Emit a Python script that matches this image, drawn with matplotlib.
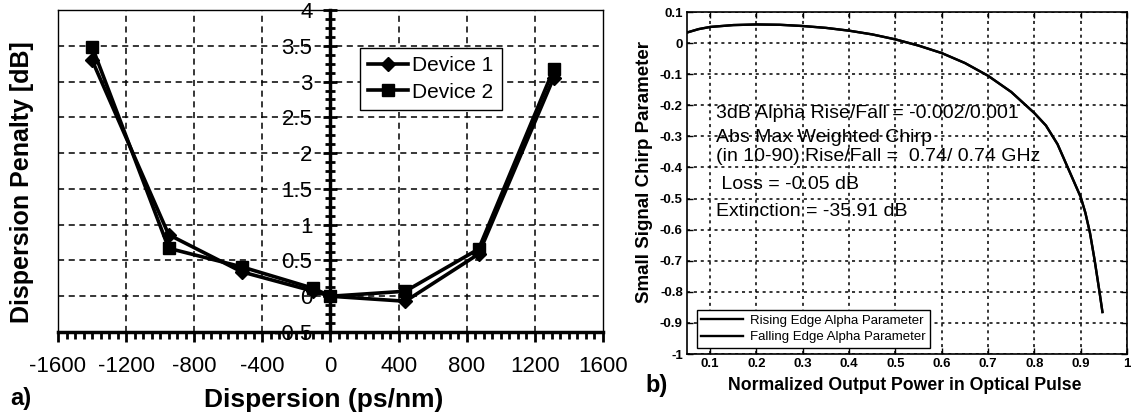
import numpy as np
import matplotlib.pyplot as plt
from matplotlib.ticker import MultipleLocator, AutoMinorLocator

plt.rcParams['font.family'] = ['Liberation Sans', 'DejaVu Sans']
plt.rcParams['axes.unicode_minus'] = False

# dispersion penalty measurements
dispersion = [-1400, -950, -520, -100, 0, 440, 870, 1310]
penalty_dev1 = [3.30, 0.86, 0.34, 0.07, 0.0, -0.07, 0.59, 3.05]
penalty_dev2 = [3.49, 0.67, 0.41, 0.11, 0.0, 0.07, 0.66, 3.17]

# small signal chirp vs normalized output power
power = [0.05, 0.075, 0.1, 0.15, 0.2, 0.25, 0.3, 0.35, 0.4, 0.45, 0.5, 0.55,
         0.6, 0.65, 0.7, 0.75, 0.8, 0.825, 0.85, 0.875, 0.9, 0.91, 0.92,
         0.93, 0.94, 0.947]
alpha_rise = [0.034, 0.045, 0.052, 0.058, 0.06, 0.059, 0.055, 0.049, 0.04,
              0.028, 0.012, -0.008, -0.032, -0.064, -0.105, -0.157, -0.225,
              -0.265, -0.325, -0.41, -0.495, -0.545, -0.61, -0.697, -0.794,
              -0.865]
alpha_fall = list(alpha_rise)

notes = ["3dB Alpha Rise/Fall = -0.002/0.001",
         "Abs Max Weighted Chirp",
         "(in 10-90) Rise/Fall =  0.74/ 0.74 GHz",
         " Loss = -0.05 dB",
         "Extinction = -35.91 dB"]
note_y = [-0.225, -0.302, -0.366, -0.456, -0.543]

fig = plt.figure(figsize=(11.37, 4.19), dpi=100)

# ---- a) dispersion penalty ----
ax1 = fig.add_axes([0.051, 0.2076, 0.4793, 0.7685])
ax1.plot(dispersion, penalty_dev1, color='black', lw=2.6, marker='D',
         ms=7, label='Device 1')
ax1.plot(dispersion, penalty_dev2, color='black', lw=2.6, marker='s',
         ms=8.5, label='Device 2')
ax1.set_xlim(-1600, 1600)
ax1.set_ylim(-0.5, 4)
ax1.xaxis.set_major_locator(MultipleLocator(400))
ax1.xaxis.set_minor_locator(MultipleLocator(50))
ax1.yaxis.set_minor_locator(AutoMinorLocator(4))
ax1.set_yticks(np.arange(-0.5, 4.01, 0.5))
ax1.set_yticklabels(['-0.5', '0', '0.5', '1', '1.5', '2', '2.5', '3', '3.5', '4'])
for x in [-1200, -800, -400, 400, 800, 1200]:
    ax1.axvline(x, color='black', ls=(0, (4, 3)), lw=1.1, zorder=1)
for y in np.arange(0, 3.6, 0.5):
    ax1.axhline(y, color='black', ls=(0, (4, 3)), lw=1.1, zorder=1)
ax1.spines['left'].set_position(('data', 0))
ax1.spines['left'].set_linewidth(2.5)
ax1.spines['bottom'].set_linewidth(2.5)
ax1.spines['top'].set_linewidth(1.0)
ax1.spines['right'].set_linewidth(1.0)
ax1.axvline(-1600, color='black', lw=1.0, clip_on=False)
ax1.tick_params(axis='x', which='major', direction='out', length=7, width=2,
                labelsize=16, pad=10)
ax1.tick_params(axis='x', which='minor', direction='out', length=5, width=2)
ax1.tick_params(axis='y', which='major', direction='inout', length=10, width=2,
                labelsize=16, pad=8)
ax1.tick_params(axis='y', which='minor', direction='inout', length=7, width=2)
ax1.legend(loc='upper left', bbox_to_anchor=(0.554, 0.882), borderaxespad=0,
           fontsize=15, frameon=True, fancybox=False, edgecolor='black',
           handlelength=1.9, handletextpad=0.2, borderpad=0.4,
           labelspacing=0.35, framealpha=1)
ax1.get_legend().get_frame().set_linewidth(1.0)

fig.text(0.019, 0.565, 'Dispersion Penalty [dB]', rotation=90, ha='center',
         va='center', fontsize=18, fontweight='bold')
fig.text(0.285, 0.045, 'Dispersion (ps/nm)', ha='center', va='center',
         fontsize=19, fontweight='bold')
fig.text(0.009, 0.05, 'a)', ha='left', va='center', fontsize=17,
         fontweight='bold')

# ---- b) chirp parameter ----
ax2 = fig.add_axes([0.6042, 0.1551, 0.387, 0.8162])
ax2.plot(power, alpha_rise, color='black', lw=1.7,
         label='Rising Edge Alpha Parameter')
ax2.plot(power, alpha_fall, color='black', lw=1.7,
         label='Falling Edge Alpha Parameter')
ax2.set_xlim(0.05, 1)
ax2.set_ylim(-1, 0.1)
ax2.set_xticks(np.arange(0.1, 1.01, 0.1))
ax2.set_xticklabels(['0.1', '0.2', '0.3', '0.4', '0.5', '0.6', '0.7', '0.8',
                     '0.9', '1'])
ax2.set_yticks(np.arange(-1, 0.11, 0.1))
ax2.set_yticklabels(['-1', '-0.9', '-0.8', '-0.7', '-0.6', '-0.5', '-0.4',
                     '-0.3', '-0.2', '-0.1', '0', '0.1'])
ax2.grid(True, color='black', ls=(0, (2, 2.5)), lw=1.1)
ax2.tick_params(direction='in', top=True, right=True, length=4, width=1,
                labelsize=9.5, pad=3)
for lbl in ax2.get_xticklabels() + ax2.get_yticklabels():
    lbl.set_fontweight('bold')
for s in ax2.spines.values():
    s.set_linewidth(1.2)
for txt, yv in zip(notes, note_y):
    ax2.text(0.113, yv, txt, fontsize=14, va='center', ha='left')
ax2.legend(loc='lower left', bbox_to_anchor=(0.022, 0.018), borderaxespad=0,
           fontsize=9.5, frameon=True, fancybox=False, edgecolor='black',
           handlelength=3.2, handletextpad=0.5, borderpad=0.35,
           labelspacing=0.3, framealpha=1)
ax2.get_legend().get_frame().set_linewidth(1.0)

fig.text(0.567, 0.59, 'Small Signal Chirp Parameter', rotation=90,
         ha='center', va='center', fontsize=13.5, fontweight='bold')
fig.text(0.796, 0.081, 'Normalized Output Power in Optical Pulse',
         ha='center', va='center', fontsize=12.7, fontweight='bold')
fig.text(0.568, 0.081, 'b)', ha='left', va='center', fontsize=17,
         fontweight='bold')

fig.savefig('out.png', dpi=100)
